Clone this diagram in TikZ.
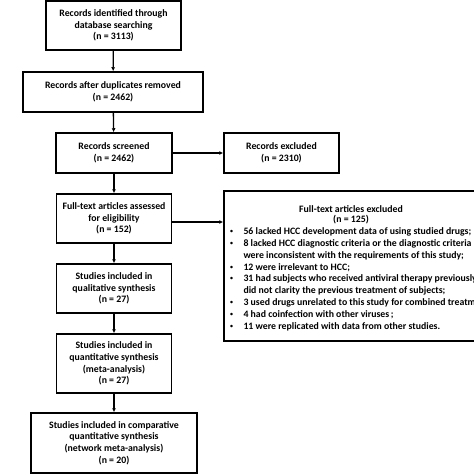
\documentclass[tikz,border=0pt]{standalone}
\usepackage{fontspec}
\setmainfont{Carlito}
\usetikzlibrary{arrows.meta}
\begin{document}
\begin{tikzpicture}[x=1pt,y=-1pt,
  box/.style={draw,line width=1.5pt,align=center,inner sep=0pt,
    font=\bfseries\fontsize{9.8}{11.7}\selectfont},
  txt/.style={inner sep=0pt,anchor=west,font=\bfseries\fontsize{9.8}{11.7}\selectfont},
  arr/.style={line width=1.3pt,-{Latex[length=4pt,width=4pt]}}]
\clip (0,0) rectangle (474,474);
\useasboundingbox (0,0) rectangle (474,474);
\node[box,minimum width=135pt,minimum height=49pt] (b1) at (113.5,25.5) {Records identified through\\database searching\\(n = 3113)};
\node[box,minimum width=180pt,minimum height=40pt] (b2) at (113,92) {Records after duplicates removed\\(n = 2462)};
\node[box,minimum width=116pt,minimum height=40pt] (b3) at (114,153) {Records screened\\(n = 2462)};
\node[box,minimum width=115pt,minimum height=40pt] (e1) at (281.5,153) {Records excluded\\(n = 2310)};
\node[box,minimum width=115pt,minimum height=49pt] (b4) at (114,218.5) {Full-text articles assessed\\for eligibility\\(n = 152)};
\node[box,minimum width=254pt,minimum height=150pt] (e2) at (351,266) {};
\node[box,minimum width=115pt,minimum height=49pt] (b5) at (114,288.5) {Studies included in\\qualitative synthesis\\(n = 27)};
\node[box,minimum width=115pt,minimum height=59pt] (b6) at (114,363.5) {Studies included in\\quantitative synthesis\\(meta-analysis)\\(n = 27)};
\node[box,minimum width=166pt,minimum height=60pt] (b7) at (114,443) {Studies included in comparative\\quantitative synthesis\\(network meta-analysis)\\(n = 20)};
\node[box,draw=none] (t1) at (351,209) {Full-text articles excluded};
\node[box,draw=none] (t2) at (351,219.5) {(n = 125)};
\foreach \y/\b/\t [count=\i] in {
  231.7/1/56 lacked HCC development data of using studied drugs;,
  243.6/1/8 lacked HCC diagnostic criteria or the diagnostic criteria,
  255.5/0/were inconsistent with the requirements of this study;,
  267.4/1/12 were irrelevant to HCC;,
  279.3/1/31 had subjects who received antiviral therapy previously or,
  291.2/0/did not clarity the previous treatment of subjects;,
  303.1/1/3 used drugs unrelated to this study for combined treatment;,
  315.0/1/4 had coinfection with other viruses\,;,
  326.9/1/11 were replicated with data from other studies.}{
  \node[txt] (l\i) at (243.3,\y) {\t};
  \ifnum\b=1 \node[txt,anchor=center,font=\fontsize{7}{7}\selectfont] (d\i) at (231.7,\y) {•};\fi
}
\draw[arr] (b1) -- (b2);
\draw[arr] (b2) -- (b3);
\draw[arr] (b3) -- (b4);
\draw[arr] (b4) -- (b5);
\draw[arr] (b5) -- (b6);
\draw[arr] (b6) -- (b7);
\draw[arr] (b3) -- (e1);
\draw[arr] ([yshift=-3.5pt]b4.east) -- ([yshift=-3.5pt]b4.east -| e2.west);
\end{tikzpicture}
\end{document}
